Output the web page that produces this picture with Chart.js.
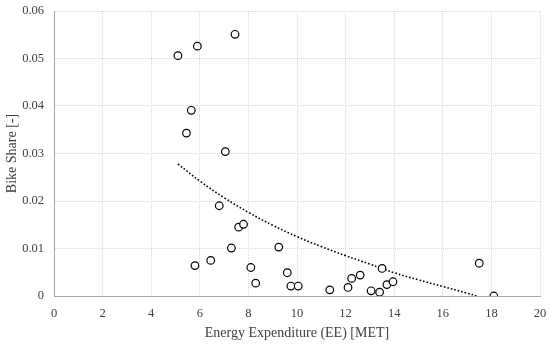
<!DOCTYPE html>
<html>
<head>
<meta charset="utf-8">
<script src="https://cdn.jsdelivr.net/npm/chart.js@4"></script>
<style>
  body { margin: 0; background: #fff; }
</style>
</head>
<body>
<canvas id="eeChart" width="550" height="346"></canvas>
<script>
// measured points (EE in MET, bike share)
const eeValues = [5.1, 5.9, 7.45, 5.65, 5.45, 7.05, 5.8, 6.45, 6.8, 7.3, 7.6, 7.8, 8.1, 8.3,
  9.25, 9.6, 9.75, 10.05, 11.35, 12.1, 12.25, 12.6, 13.05, 13.4, 13.5, 13.7, 13.95, 17.5, 18.1];
const shareValues = [0.0506, 0.0526, 0.0551, 0.0391, 0.0343, 0.0304, 0.0064, 0.0075, 0.019, 0.0101, 0.0145, 0.0151, 0.006, 0.0027,
  0.0103, 0.0049, 0.0021, 0.0021, 0.0013, 0.0018, 0.0037, 0.0044, 0.0011, 0.0008, 0.0058, 0.0024, 0.003, 0.0069, 0.0];

// dotted trend line
const trendX = [5.1, 6, 7, 8, 9, 10, 11, 12, 13, 14, 15, 16, 17, 17.4];
const trendY = [0.0278, 0.0242, 0.0207, 0.0176, 0.0149, 0.0125, 0.0104, 0.0085, 0.0067, 0.0049, 0.0034, 0.002, 0.0006, 0];

const xTicks = [0, 2, 4, 6, 8, 10, 12, 14, 16, 18, 20];
const yTicks = [0, 0.01, 0.02, 0.03, 0.04, 0.05, 0.06];

const font = { family: "'Liberation Serif', serif", size: 12.5 };
const titleFont = { family: "'Liberation Serif', serif", size: 14 };

function toPoints(xs, ys) {
  return xs.map((x, i) => ({ x: x, y: ys[i] }));
}

const ctx = document.getElementById("eeChart");

// eslint-disable-next-line no-unused-vars
const eeScatter = new Chart(ctx, {
  type: "scatter",
  data: {
    datasets: [
      {
        label: "Bike Share",
        data: toPoints(eeValues, shareValues),
        pointRadius: 3.8,
        pointBorderWidth: 1.2,
        pointBorderColor: "#000",
        pointBackgroundColor: "#fff",
        order: 1
      },
      {
        label: "Trend",
        data: toPoints(trendX, trendY),
        showLine: true,
        pointRadius: 0,
        borderColor: "#000",
        borderWidth: 1.6,
        borderDash: [1.6, 2],
        tension: 0.4,
        fill: false,
        order: 2
      }
    ]
  },
  options: {
    responsive: false,
    animation: false,
    devicePixelRatio: 1,
    layout: { padding: { top: 11, right: 10, left: 0, bottom: 0 } },
    plugins: {
      legend: { display: false },
      tooltip: { enabled: false }
    },
    scales: {
      x: {
        type: "linear",
        min: 0,
        max: 20,
        afterBuildTicks: scale => { scale.ticks = xTicks.map(v => ({ value: v })); },
        grid: { color: "#d9d9d9", drawTicks: false },
        border: { color: "#a6a6a6", width: 1, dash: [1, 1] },
        ticks: { color: "#404040", font: font, padding: 10, maxRotation: 0 },
        title: {
          display: true,
          text: "Energy Expenditure (EE) [MET]",
          color: "#404040",
          font: titleFont,
          padding: { top: 4, bottom: 4 }
        },
        afterFit: scale => {
          scale.height = 50;
          scale.paddingLeft = 0;
          scale.paddingRight = 0;
        }
      },
      y: {
        type: "linear",
        min: 0,
        max: 0.06,
        afterBuildTicks: scale => { scale.ticks = yTicks.map(v => ({ value: v })); },
        grid: { color: "#d9d9d9", drawTicks: false },
        border: { color: "#a6a6a6", width: 1, dash: [1, 1] },
        ticks: {
          color: "#404040",
          font: font,
          padding: 10,
          callback: v => (v === 0 ? "0" : v.toFixed(2))
        },
        title: {
          display: true,
          text: "Bike Share [-]",
          color: "#404040",
          font: titleFont,
          padding: { top: 4, bottom: 4 }
        },
        afterFit: scale => {
          scale.width = 54;
          scale.paddingTop = 0;
          scale.paddingBottom = 0;
        }
      }
    }
  }
});
</script>
</body>
</html>
